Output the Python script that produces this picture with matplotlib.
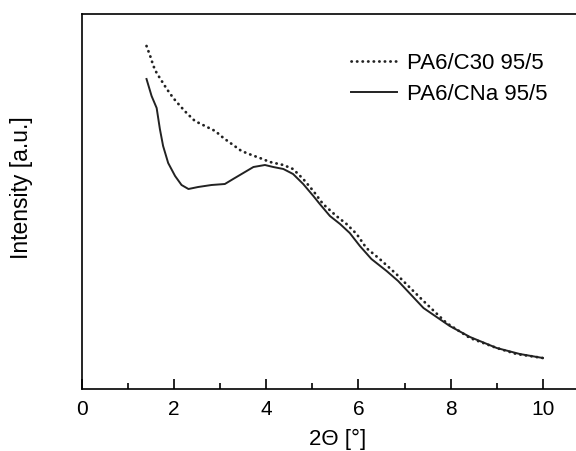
import numpy as np
import matplotlib.pyplot as plt

plt.rcParams['font.family'] = ['Liberation Sans', 'DejaVu Sans']

# scattering angle 2theta [deg] and intensity [a.u.]
two_theta_c30 = [1.40, 1.48, 1.55, 1.62, 1.73, 1.84, 1.98, 2.13, 2.27, 2.45, 2.67,
                 2.89, 3.07, 3.25, 3.46, 3.68, 3.86, 4.08, 4.37, 4.58, 4.80, 5.02,
                 5.23, 5.52, 5.74, 5.96, 6.17, 6.46, 6.82, 6.97, 7.41, 7.91, 8.42,
                 9.00, 9.43, 10.0]
intensity_c30 = [343, 333, 323, 316, 308, 300, 291, 283, 276, 268, 263,
                 258, 251, 245, 238, 234, 231, 227, 224, 220, 210, 198,
                 185, 173, 165, 155, 141, 130, 115, 108, 88, 66, 51,
                 41, 35, 31]

two_theta_cna = [1.40, 1.51, 1.62, 1.69, 1.76, 1.87, 2.02, 2.16, 2.31, 2.52, 2.81,
                 3.10, 3.28, 3.50, 3.72, 3.97, 4.15, 4.37, 4.58, 4.80, 5.02, 5.16,
                 5.38, 5.60, 5.81, 6.03, 6.28, 6.61, 6.86, 7.41, 7.98, 8.42, 9.00,
                 9.50, 10.0]
intensity_cna = [310, 293, 281, 260, 243, 226, 213, 204, 200, 202, 204,
                 205, 210, 216, 222, 224, 222, 220, 215, 205, 193, 185,
                 173, 165, 156, 143, 130, 118, 108, 81, 63, 52, 41,
                 35, 31]

labels = ['PA6/C30 95/5', 'PA6/CNa 95/5']

fig = plt.figure(figsize=(5.76, 4.51), dpi=100)
ax = fig.add_axes([82/576, 1 - 389/451, 1 - 82/576, (389 - 14)/451])

ax.plot(two_theta_c30, intensity_c30, color='#222222', lw=2.0,
        ls=(0, (0.1, 1.9)), dash_capstyle='round', label=labels[0])
ax.plot(two_theta_cna, intensity_cna, color='#222222', lw=1.4, label=labels[1])

ax.set_xlim(0, 10.72)
ax.set_ylim(0, 375)
ax.set_xticks([0, 2, 4, 6, 8, 10])
ax.set_xticks([1, 3, 5, 7, 9], minor=True)
ax.set_yticks([])
ax.tick_params(axis='x', which='major', direction='in', length=7, width=1.2,
               labelsize=15, pad=8)
ax.tick_params(axis='x', which='minor', direction='in', length=4, width=1.2)
ax.spines['right'].set_visible(False)
for s in ['left', 'top', 'bottom']:
    ax.spines[s].set_linewidth(1.2)

ax.set_xlabel('2\u0398 [\u00b0]', fontsize=16)
ax.xaxis.set_label_coords((338 - 82) / (576 - 82), -0.105)
ax.set_ylabel('Intensity [a.u.]', fontsize=16.5)
ax.yaxis.set_label_coords(-0.1, 0.536)

ax.legend(loc='upper left', bbox_to_anchor=((351 - 82) / 494, (389 - 53) / 375),
          frameon=False, fontsize=16, handlelength=2.07, handletextpad=0.45,
          labelspacing=0.45, borderaxespad=0, borderpad=0)

fig.savefig('out.png', dpi=100)
